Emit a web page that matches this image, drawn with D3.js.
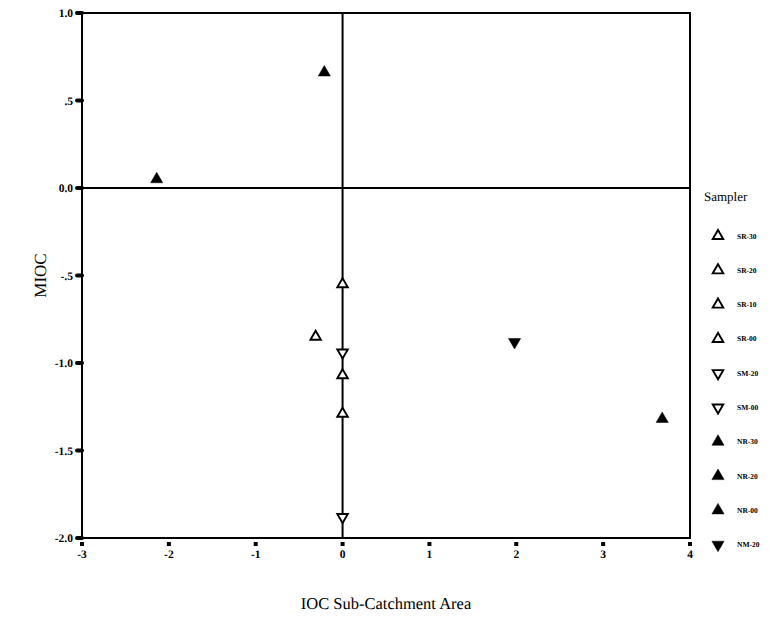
<!DOCTYPE html>
<html>
<head>
<meta charset="utf-8">
<script src="https://cdn.jsdelivr.net/npm/d3@7"></script>
<style>
  html, body { margin: 0; padding: 0; background: #fff; }
  svg { display: block; }
  text { font-family: "Liberation Serif", "Times New Roman", serif; fill: #000; text-rendering: geometricPrecision; }
</style>
</head>
<body>
<script>
// Sampler sites, their scores and marker styles
const samplers = ["SR-30", "SR-20", "SR-10", "SR-00", "SM-20", "SM-00", "NR-30", "NR-20", "NR-00", "NM-20"];
const iocValues  = [0.00, -0.31, 0.00, 0.00, 0.00, 0.00, -0.21, -2.14, 3.68, 1.98];
const miocValues = [-0.55, -0.85, -1.07, -1.29, -0.94, -1.88, 0.66, 0.05, -1.32, -0.88];
const markerShape = ["up", "up", "up", "up", "down", "down", "up", "up", "up", "down"];
const markerFilled = [false, false, false, false, false, false, true, true, true, true];

const xTicks = [-3, -2, -1, 0, 1, 2, 3, 4];
const yTicks = [1.0, 0.5, 0.0, -0.5, -1.0, -1.5, -2.0];
const yTickLabels = ["1.0", ".5", "0.0", "-.5", "-1.0", "-1.5", "-2.0"];

const W = 769, H = 619;
const svg = d3.select("body").append("svg").attr("width", W).attr("height", H);

const x = d3.scaleLinear().domain([-3, 4]).range([82, 690]);
const y = d3.scaleLinear().domain([-2, 1]).range([538, 13]);

// Plot frame
svg.append("rect")
  .attr("x", x(-3)).attr("y", y(1))
  .attr("width", x(4) - x(-3)).attr("height", y(-2) - y(1))
  .attr("fill", "none").attr("stroke", "#000").attr("stroke-width", 2);

// Reference lines through the origin
svg.append("line")
  .attr("x1", x(-3)).attr("x2", x(4)).attr("y1", y(0)).attr("y2", y(0))
  .attr("stroke", "#000").attr("stroke-width", 2);
svg.append("line")
  .attr("x1", x(0)).attr("x2", x(0)).attr("y1", y(1)).attr("y2", y(-2))
  .attr("stroke", "#000").attr("stroke-width", 2);

// Y axis: short heavy ticks and labels
const yAxis = svg.append("g");
yAxis.selectAll("line").data(yTicks).join("line")
  .attr("x1", x(-3) - 5).attr("x2", x(-3))
  .attr("y1", d => y(d)).attr("y2", d => y(d))
  .attr("stroke", "#000").attr("stroke-width", 4).attr("stroke-linecap", "round");
yAxis.selectAll("text").data(yTicks).join("text")
  .attr("x", x(-3) - 9).attr("y", d => y(d) + 4)
  .attr("text-anchor", "end").attr("font-size", 11.5).attr("font-weight", "bold")
  .text((d, i) => yTickLabels[i]);

// X axis: dot ticks and labels
const xAxis = svg.append("g");
xAxis.selectAll("rect").data(xTicks).join("rect")
  .attr("x", d => x(d) - 2).attr("y", y(-2) + 4).attr("width", 4).attr("height", 4)
  .attr("fill", "#000");
xAxis.selectAll("text").data(xTicks).join("text")
  .attr("x", d => x(d)).attr("y", y(-2) + 20)
  .attr("text-anchor", "middle").attr("font-size", 11.5).attr("font-weight", "bold")
  .text(d => String(d));

// Axis titles
svg.append("text")
  .attr("transform", `translate(46,${(y(1) + y(-2)) / 2}) rotate(-90)`)
  .attr("text-anchor", "middle").attr("font-size", 17)
  .text("MIOC");
svg.append("text")
  .attr("x", (x(-3) + x(4)) / 2).attr("y", 609)
  .attr("text-anchor", "middle").attr("font-size", 16.5)
  .text("IOC Sub-Catchment Area");

// Triangle markers
const tri = d3.symbol().type(d3.symbolTriangle);
function drawMarker(sel, shape, filled) {
  sel.attr("d", tri.size(filled ? 64 : 48)())
    .attr("fill", filled ? "#000" : "#fff")
    .attr("stroke", "#000")
    .attr("stroke-width", filled ? 0.5 : 1.9)
    .attr("stroke-linejoin", "miter");
}

const pts = samplers.map((s, i) => ({
  name: s, ioc: iocValues[i], mioc: miocValues[i],
  shape: markerShape[i], filled: markerFilled[i]
}));

svg.append("g").selectAll("path").data(pts).join("path")
  .each(function (d) { drawMarker(d3.select(this), d.shape, d.filled); })
  .attr("transform", d => `translate(${x(d.ioc)},${y(d.mioc)})${d.shape === "down" ? " rotate(180)" : ""}`);

// Legend
svg.append("text").attr("x", 704).attr("y", 201).attr("font-size", 13).text("Sampler");
const leg = svg.append("g").selectAll("g").data(pts).join("g")
  .attr("transform", (d, i) => `translate(718,${236 + i * 34.3})`);
leg.append("path")
  .each(function (d) { drawMarker(d3.select(this), d.shape, d.filled); })
  .attr("transform", d => d.shape === "down" ? "rotate(180)" : null);
leg.append("text")
  .attr("x", 19).attr("y", 2.5).attr("font-size", 7.5).attr("font-weight", "bold")
  .text(d => d.name);
</script>
</body>
</html>
